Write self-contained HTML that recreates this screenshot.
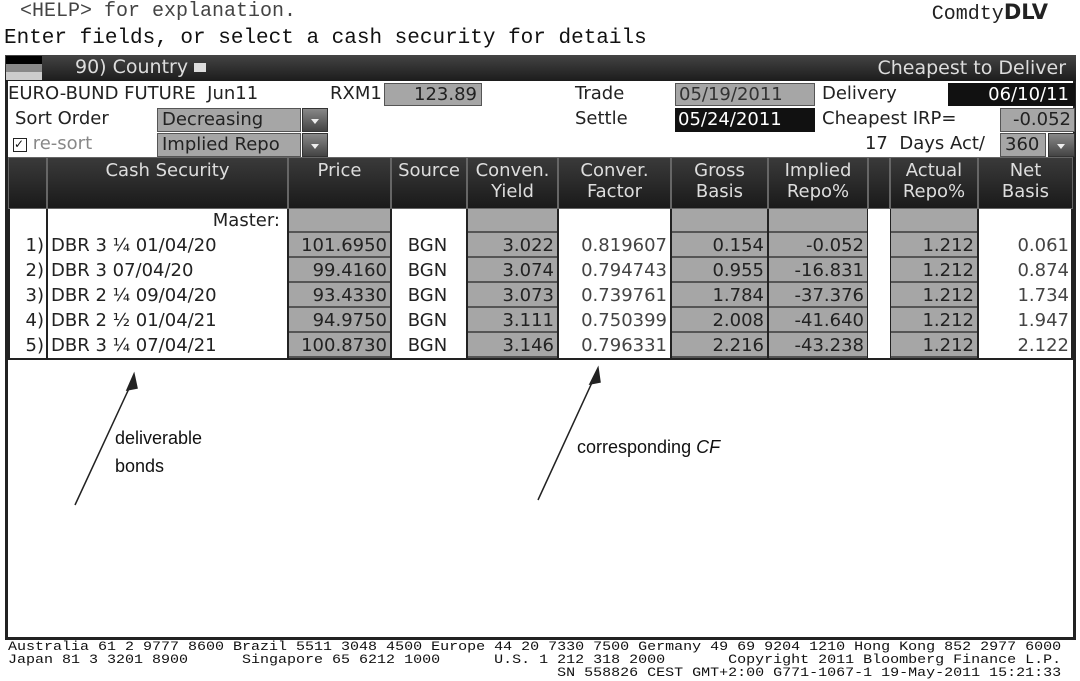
<!DOCTYPE html>
<html><head><meta charset="utf-8"><style>
body{margin:0;width:1080px;height:681px;background:#fff;position:relative;overflow:hidden;font-family:"DejaVu Sans","Liberation Sans",sans-serif;color:#222}
div{box-sizing:border-box}
.a{position:absolute;white-space:nowrap}
.mono{font-family:"Liberation Mono","DejaVu Sans Mono",monospace}
.t{font-size:18px;line-height:24px}
.g{background:#a6a6a6;border:1px solid #555}
.k{background:#111;color:#fff}
.hd{background:linear-gradient(#3a3a3a,#1a1a1a);color:#ddd;border:1px solid #666;text-align:center;font-size:18px;line-height:21px;padding-top:2px}
.c{font-size:18px;line-height:25px;height:25px;text-align:right;padding-right:3px}
.dd{background:linear-gradient(#888,#444);border:1px solid #333}
.dd:after{content:"";position:absolute;left:8px;top:10px;border:4px solid transparent;border-top:5px solid #eee}
</style></head><body>
<div class="a mono" style="left:20px;top:0;font-size:20px;line-height:24px;color:#444">&lt;HELP&gt; for explanation.</div>
<div class="a mono" style="right:32px;top:0;font-size:20px;line-height:24px;color:#222">Comdty<b style="font-family:'DejaVu Sans';font-size:21px">DLV</b></div>
<div class="a mono" style="left:4px;top:26px;font-size:21px;line-height:26px;color:#111">Enter fields, or select a cash security for details</div>

<div class="a" style="left:5px;top:55px;width:1071px;height:585px;border:3px solid #222;border-top:none"></div>
<div class="a" style="left:5px;top:55px;width:1071px;height:26px;background:linear-gradient(#444,#1c1c1c)"></div>
<div class="a" style="left:6px;top:56px;width:36px;height:24px;background:linear-gradient(#000 0 33%,#888 33% 66%,#ccc 66%)"></div>
<div class="a t" style="left:75px;top:55px;color:#ddd;font-size:19px">90) Country <span style="display:inline-block;width:12px;height:9px;background:#ddd;vertical-align:middle"></span></div>
<div class="a t" style="right:14px;top:56px;color:#ddd;font-size:19px">Cheapest to Deliver</div>

<div class="a t" style="left:8px;top:82px">EURO-BUND FUTURE&nbsp; Jun11</div>
<div class="a t" style="left:330px;top:82px">RXM1</div>
<div class="a t g" style="left:384px;top:83px;width:98px;height:23px;text-align:right;padding-right:4px;line-height:21px">123.89</div>
<div class="a t" style="left:575px;top:82px">Trade</div>
<div class="a t g" style="left:675px;top:83px;width:140px;height:23px;line-height:21px;padding-left:3px;color:#333">05/19/2011</div>
<div class="a t" style="left:822px;top:82px">Delivery</div>
<div class="a t k" style="left:948px;top:83px;width:127px;height:23px;text-align:right;padding-right:6px;line-height:23px">06/10/11</div>

<div class="a t" style="left:15px;top:107px">Sort Order</div>
<div class="a t g" style="left:157px;top:108px;width:144px;height:24px;padding-left:4px;line-height:22px">Decreasing</div>
<div class="a dd" style="left:302px;top:108px;width:26px;height:24px"></div>
<div class="a t" style="left:575px;top:107px">Settle</div>
<div class="a t k" style="left:675px;top:108px;width:140px;height:24px;padding-left:3px">05/24/2011</div>
<div class="a t" style="left:822px;top:107px">Cheapest IRP=</div>
<div class="a t g" style="left:1000px;top:108px;width:75px;height:24px;text-align:right;padding-right:3px;line-height:22px">-0.052</div>

<div class="a t" style="left:13px;top:132px;color:#888"><span style="display:inline-block;width:12px;height:12px;border:1px solid #222;font-size:12px;line-height:11px;color:#111;vertical-align:1px">✓</span> re-sort</div>
<div class="a t g" style="left:157px;top:133px;width:144px;height:24px;padding-left:4px;line-height:22px">Implied Repo</div>
<div class="a dd" style="left:302px;top:133px;width:26px;height:24px"></div>
<div class="a t" style="right:95px;top:132px">17&nbsp; Days Act/</div>
<div class="a t g" style="left:1000px;top:133px;width:46px;height:24px;padding-left:4px;line-height:22px">360</div>
<div class="a dd" style="left:1048px;top:133px;width:27px;height:24px"></div>

<div id="tbl"></div>

<svg class="a" style="left:0;top:0" width="1080" height="681">
<g stroke="#222" stroke-width="1.5" fill="#222">
<line x1="75" y1="505" x2="132" y2="382"/><polygon points="134,374 127,390 137,388"/>
<line x1="538" y1="500" x2="595" y2="376"/><polygon points="598,368 590,384 600,382"/>
</g></svg>
<div class="a" style="left:115px;top:424px;font-family:'Liberation Sans',sans-serif;font-size:18px;line-height:28px;color:#111">deliverable<br>bonds</div>
<div class="a" style="left:577px;top:434px;font-family:'Liberation Sans',sans-serif;font-size:18px;line-height:26px;color:#111">corresponding <i>CF</i></div>

<div class="a mono" style="left:8px;top:641px;font-size:12.5px;line-height:13px;color:#111;white-space:pre;transform:scaleX(1.2);transform-origin:0 0">Australia 61 2 9777 8600 Brazil 5511 3048 4500 Europe 44 20 7330 7500 Germany 49 69 9204 1210 Hong Kong 852 2977 6000
Japan 81 3 3201 8900      Singapore 65 6212 1000      U.S. 1 212 318 2000       Copyright 2011 Bloomberg Finance L.P.
                                                             SN 558826 CEST GMT+2:00 G771-1067-1 19-May-2011 15:21:33</div>

<script>
const securities=["DBR 3 ¼  01/04/20","DBR 3 07/04/20","DBR 2 ¼  09/04/20","DBR 2 ½  01/04/21","DBR 3 ¼  07/04/21"];
const prices=["101.6950","99.4160","93.4330","94.9750","100.8730"];
const sources=["BGN","BGN","BGN","BGN","BGN"];
const yields=["3.022","3.074","3.073","3.111","3.146"];
const factors=["0.819607","0.794743","0.739761","0.750399","0.796331"];
const gross=["0.154","0.955","1.784","2.008","2.216"];
const implied=["-0.052","-16.831","-37.376","-41.640","-43.238"];
const actual=["1.212","1.212","1.212","1.212","1.212"];
const net=["0.061","0.874","1.734","1.947","2.122"];
const headers=["","Cash Security","Price","Source","Conven.<br>Yield","Conver.<br>Factor","Gross<br>Basis","Implied<br>Repo%","","Actual<br>Repo%","Net<br>Basis"];
const cols=[[8,47],[47,288],[288,391],[391,467],[467,558],[558,671],[671,768],[768,868],[868,890],[890,978],[978,1073]];
const grey=[false,false,true,false,true,false,true,true,false,true,false];
const T=document.getElementById('tbl');
function add(html,name,inter,style,cls){const d=document.createElement('div');d.className='a '+(cls||'');d.style.cssText=style;d.innerHTML=html;


T.appendChild(d);return d;}
cols.forEach((c,i)=>{add(headers[i],'header-'+i,'false',`left:${c[0]}px;top:157px;width:${c[1]-c[0]}px;height:52px`,'hd');});
add('','table-body','false','left:8px;top:209px;width:1065px;height:151px;border:2px solid #222;border-top:none');
cols.forEach((c,i)=>{ if(i>0) add('','col-divider','false',`left:${c[0]-1}px;top:209px;width:2px;height:150px;background:#222`);});
add('','gap-column','false',`left:868px;top:209px;width:22px;height:149px;background:#fff`);
add('Master:','master-label','false','left:47px;top:208px;width:239px;text-align:right;padding-right:6px','c');
[2,4,6,7,9].forEach(i=>add('','master-cell','true',`left:${cols[i][0]+1}px;top:209px;width:${cols[i][1]-cols[i][0]-2}px;height:24px;background:#a6a6a6;border-bottom:2px solid #555`));
const cellVals=[null,securities,prices,sources,yields,factors,gross,implied,null,actual,net];
for(let r=0;r<securities.length;r++){
  const y=233+r*25;
  add((r+1)+')','row-number','false',`left:8px;top:${y}px;width:39px;`,'c');
  cellVals.forEach((arr,i)=>{ if(!arr) return;
    const c=cols[i];let st=`left:${c[0]+1}px;top:${y}px;width:${c[1]-c[0]-2}px;`;
    if(grey[i]) st+='background:#a6a6a6;border-bottom:2px solid #555;';
    if(i==1) st+='text-align:left;padding-left:3px;';
    if(i==3) st+='text-align:center;';
    if(i==5||i==10) st+='color:#444;';
    add(arr[r],'cell-'+i+'-'+r,i==1?'true':'false',st,'c');
  });
}
</script>
</body></html>
